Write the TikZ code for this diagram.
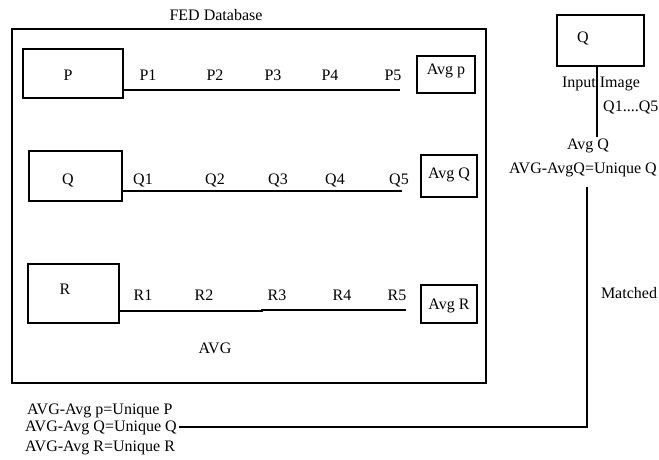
\documentclass[tikz,border=0pt]{standalone}
\usepackage{fontspec}
\setmainfont{Liberation Serif}
\begin{document}
\begin{tikzpicture}[x=1pt,y=-1pt,
  box/.style={draw=black,line width=2.6pt,inner sep=0pt},
  txt/.style={inner sep=0pt,font=\fontsize{16}{19}\selectfont},
  wire/.style={draw=black,line width=2.6pt}]
\useasboundingbox (0,0) rectangle (659,459);
% outer database frame
\node[box,minimum width=474pt,minimum height=354pt] (fed) at (249,206) {};
\node[txt] (fedlbl) at (216,15) {FED Database};
% P row
\node[box,minimum width=100pt,minimum height=49pt] (pbox) at (73,73.5) {};
\node[txt] (ptxt) at (68,75) {P};
\node[box,minimum width=58pt,minimum height=37pt] (avgp) at (446,74.5) {};
\node[txt] (avgptxt) at (446,71) {Avg p};
\coordinate (pend) at (400,90);
\draw[wire] (pbox.east |- pend) -- (pend);
\node[txt] (p1) at (148,75) {P1};
\node[txt] (p2) at (215,75) {P2};
\node[txt] (p3) at (273,75) {P3};
\node[txt] (p4) at (330,75) {P4};
\node[txt] (p5) at (393,75) {P5};
% Q row
\node[box,minimum width=93pt,minimum height=50pt] (qbox) at (75.5,176) {};
\node[txt] (qtxt) at (68,180) {Q};
\node[box,minimum width=56pt,minimum height=42pt] (avgq) at (449,176) {};
\node[txt] (avgqtxt) at (449,175) {Avg Q};
\coordinate (qend) at (402,191);
\draw[wire] (qbox.east |- qend) -- (qend);
\node[txt] (q1) at (143,180) {Q1};
\node[txt] (q2) at (215,180) {Q2};
\node[txt] (q3) at (278,180) {Q3};
\node[txt] (q4) at (335,180) {Q4};
\node[txt] (q5) at (399,180) {Q5};
% R row
\node[box,minimum width=91pt,minimum height=59pt] (rbox) at (73.5,293.5) {};
\node[txt] (rtxt) at (65,289) {R};
\node[box,minimum width=56pt,minimum height=38pt] (avgr) at (449,304) {};
\node[txt] (avgrtxt) at (449,306) {Avg R};
\coordinate (rmid) at (262,311);
\coordinate (rend) at (406,310);
\draw[wire] (rbox.east |- rmid) -- (rmid) -- (rmid |- rend) -- (rend);
\node[txt] (r1) at (143,295) {R1};
\node[txt] (r2) at (204,295) {R2};
\node[txt] (r3) at (277,295) {R3};
\node[txt] (r4) at (342,295) {R4};
\node[txt] (r5) at (397,295) {R5};
\node[txt] (avg) at (215,348) {AVG};
% input image
\node[box,minimum width=87pt,minimum height=51pt] (qin) at (600.5,40.5) {};
\node[txt] (qintxt) at (583,38) {Q};
\node[txt] (inimg) at (601,84) {Input Image};
\coordinate (qinend) at (597,137);
\draw[wire] (qin.south -| qinend) -- (qinend);
\node[txt,anchor=west] (qrange) at (603,107) {Q1....Q5};
\node[txt] (avgqin) at (588,146) {Avg Q};
\node[txt,anchor=west] (uqin) at (509,170) {AVG-AvgQ=Unique Q};
% results
\node[txt,anchor=west] (up) at (27,411) {AVG-Avg p=Unique P};
\node[txt,anchor=west] (uq) at (25,428) {AVG-Avg Q=Unique Q};
\node[txt,anchor=west] (ur) at (25,448) {AVG-Avg R=Unique R};
\node[txt] (matched) at (629,293) {Matched};
\coordinate (mtop) at (587,187);
\coordinate (mcorner) at (587,427);
\draw[wire] (mtop) -- (mcorner) -- ([xshift=2pt]uq.east |- mcorner);
\end{tikzpicture}
\end{document}
